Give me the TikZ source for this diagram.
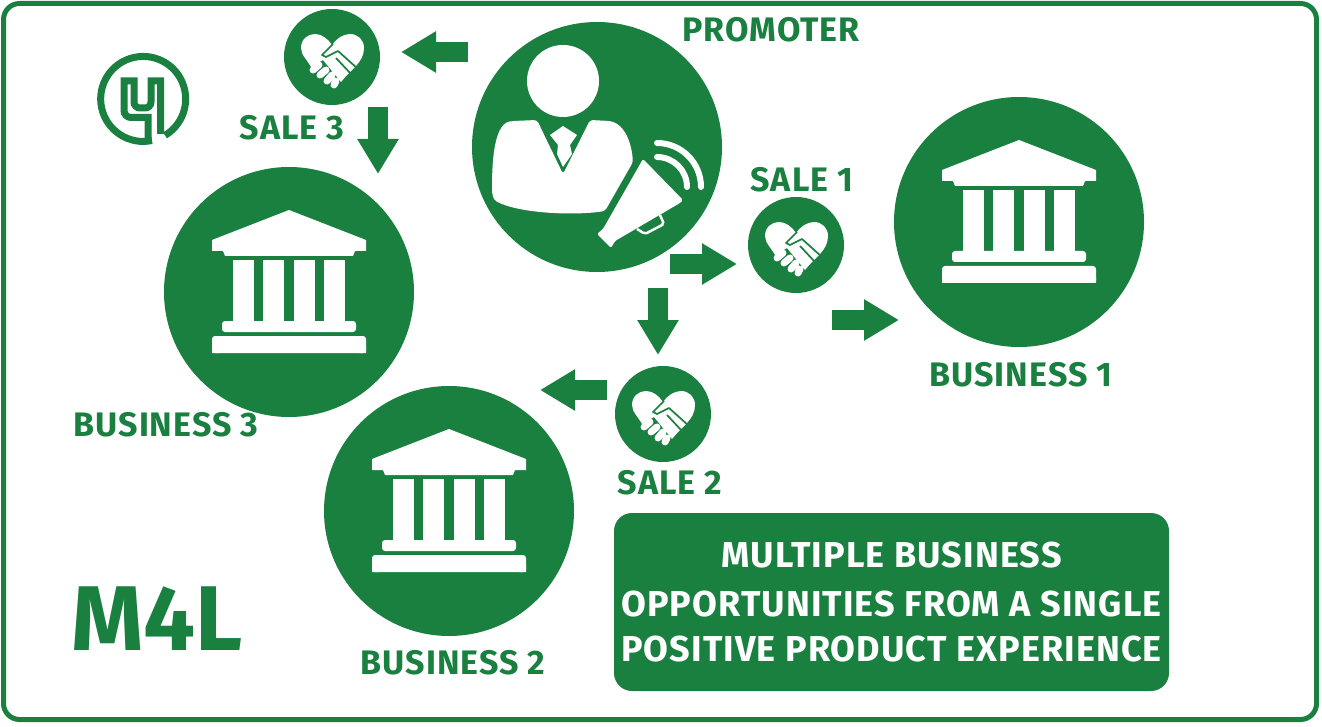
\documentclass[tikz,border=0pt]{standalone}
\usepackage{fontspec}
\setmainfont{Fira Sans}
\newfontfamily\spacedfont[LetterSpace=3]{Fira Sans}
\usetikzlibrary{arrows.meta}
\definecolor{mfgreen}{RGB}{25,128,64}
\tikzset{
  x=1pt,y=-1pt,
  bigdisc/.style={circle,fill=mfgreen,minimum size=250pt,inner sep=0pt},
  saledisc/.style={circle,fill=mfgreen,minimum size=96pt,inner sep=0pt},
  caption/.style={text=mfgreen,font=\fontsize{34}{34}\selectfont\spacedfont\bfseries,inner sep=0pt},
  blockarrow/.style={draw=mfgreen,line width=20pt,-{Triangle[length=35pt,width=39pt]}},
  pics/bank/.style={code={
    \fill[white,rounded corners=.5pt] (0,-82) -- (77,-52) -- (77,-41) -- (66,-41) -- (64,-36) -- (-64,-36) -- (-66,-41) -- (-77,-41) -- (-77,-52) -- cycle;
    \foreach \xpos in {-56,-26,5,35}
      \fill[white] (\xpos,-32) rectangle ++(21,62);
    \fill[white,rounded corners=3pt] (-67,40) -- (-67,29) -- (67,29) -- (67,40) -- cycle;
    \fill[white,rounded corners=3pt] (-77,61) -- (-77,44) -- (77,44) -- (77,61) -- cycle;
    \fill[white] (-77,61) rectangle (-70,55) (77,61) rectangle (70,55);
  }},
  pics/deal/.style={code={
    \fill[white] (9,25) -- (-9,3) -- (-21,10) .. controls (-24,4) and (-31,-2) .. (-31,-9) .. controls (-31,-18) and (-24,-23) .. (-17,-23) .. controls (-10,-23) and (-4,-18) .. (0,-12) .. controls (4,-18) and (11,-23) .. (18,-23) .. controls (26,-23) and (32,-17) .. (32,-9) .. controls (32,6) and (18,13) .. (9,25) -- cycle;
    \draw[mfgreen,line width=1.7pt,line join=round] (1,-13) -- (-10,-2) -- (-6,0) -- (6,-6) -- (26,12) (4,1) -- (19,17);
    \draw[white,line width=7pt,line cap=round] (-19,13) -- (-13,8) (-12,18) -- (-6,13) (-5,24) -- (0,18) (2,28) -- (4,24);
  }},
  pics/speaker/.style={code={
    \fill[white] (-34,-66) circle (36);
    \fill[white,rounded corners=3pt] (-60,-27) -- (-34,27) -- (-7,-27) -- (13,-26) .. controls (26,-22) and (34,-8) .. (36,15) -- (8,64) .. controls (-25,69) and (-80,66) .. (-103,53) -- (-105,46) .. controls (-105,25) and (-105,-23) .. (-84,-26) -- cycle;
    \fill[white] (-47,-12) -- (-34,-21) -- (-20,-12) -- (-27,-2) -- (-25,7) -- (-34,20) -- (-40,7) -- (-39,-2) -- cycle;
    \fill[white,rounded corners=1.5pt] (46,12) -- (86,53) -- (83,56) -- (18,94) -- (14,101) -- (0,87) -- (6,82) -- cycle;
    \draw[white,line width=2.5pt,rounded corners=2pt] (40,82) -- (48,87) -- (67,77) -- (63,68);
    \draw[white,line width=6pt,line cap=round] (60,-4) arc[start angle=-90,end angle=0,radius=44] (60,10) arc[start angle=-90,end angle=0,radius=30];
  }}
}
\begin{document}
\begin{tikzpicture}
\useasboundingbox (0,0) rectangle (1322,727);
\draw[mfgreen,line width=5pt,rounded corners=16pt] (3.5,3.5) rectangle (1316.5,719.5);

% discs
\node[bigdisc] (promoter) at (597,147) {};
\node[bigdisc] (business1) at (1019,222) {};
\node[bigdisc] (business2) at (449,511) {};
\node[bigdisc] (business3) at (289,292) {};
\node[saledisc] (sale1) at (796,245) {};
\node[saledisc] (sale2) at (663,414) {};
\node[saledisc] (sale3) at (332,57) {};

% icons
\pic at (promoter) {speaker};
\pic at (business1) {bank};
\pic at (business2) {bank};
\pic at (business3) {bank};
\pic at (sale1) {deal};
\pic at (sale2) {deal};
\pic at (sale3) {deal};

% logo
\draw[mfgreen,line width=7pt] (152,140.5) arc[start angle=78,end angle=419,radius=42.5];
\draw[mfgreen,line width=7pt,line join=miter] (148,142) -- (148,117.5) [rounded corners=7pt] -- (124,117.5) [sharp corners] -- (124,81) -- (134,81) [rounded corners=6pt] -- (134,108) -- (151,108) [sharp corners] -- (151,81) -- (160.5,81) -- (160.5,134);

% labels
\node[caption] (promoterlabel) at (771,30) {PROMOTER};
\node[caption] (sale1label) at (802,180) {SALE 1};
\node[caption] (sale2label) at (670,483) {SALE 2};
\node[caption] (sale3label) at (292,128) {SALE 3};
\node[caption] (business1label) at (1021,375) {BUSINESS 1};
\node[caption] (business2label) at (453,663) {BUSINESS 2};
\node[caption] (business3label) at (166,425) {BUSINESS 3};
\node[text=mfgreen,font=\fontsize{92}{92}\selectfont\bfseries,inner sep=0pt] (brand) at (157,619) {M4L};
\node[fill=mfgreen,rounded corners=18pt,minimum width=555pt,minimum height=178pt,text=white,align=center,font=\fontsize{36}{47}\selectfont\spacedfont\bfseries,inner sep=0pt] (message) at (891.5,602) {MULTIPLE BUSINESS\\[2pt]OPPORTUNITIES FROM A SINGLE\\[-2pt]POSITIVE PRODUCT EXPERIENCE};

% arrows
\coordinate (a1s) at (468,52); \coordinate (a1e) at (401,52);
\coordinate (a2s) at (378,107); \coordinate (a2e) at (378,174);
\coordinate (a3s) at (670,264); \coordinate (a3e) at (737,264);
\coordinate (a4s) at (832,320); \coordinate (a4e) at (899,320);
\coordinate (a5s) at (658,288); \coordinate (a5e) at (658,355);
\coordinate (a6s) at (607,390); \coordinate (a6e) at (540,390);
\foreach \from/\to in {a1s/a1e,a2s/a2e,a3s/a3e,a4s/a4e,a5s/a5e,a6s/a6e}
  \draw[blockarrow] (\from) -- (\to);
\end{tikzpicture}
\end{document}
